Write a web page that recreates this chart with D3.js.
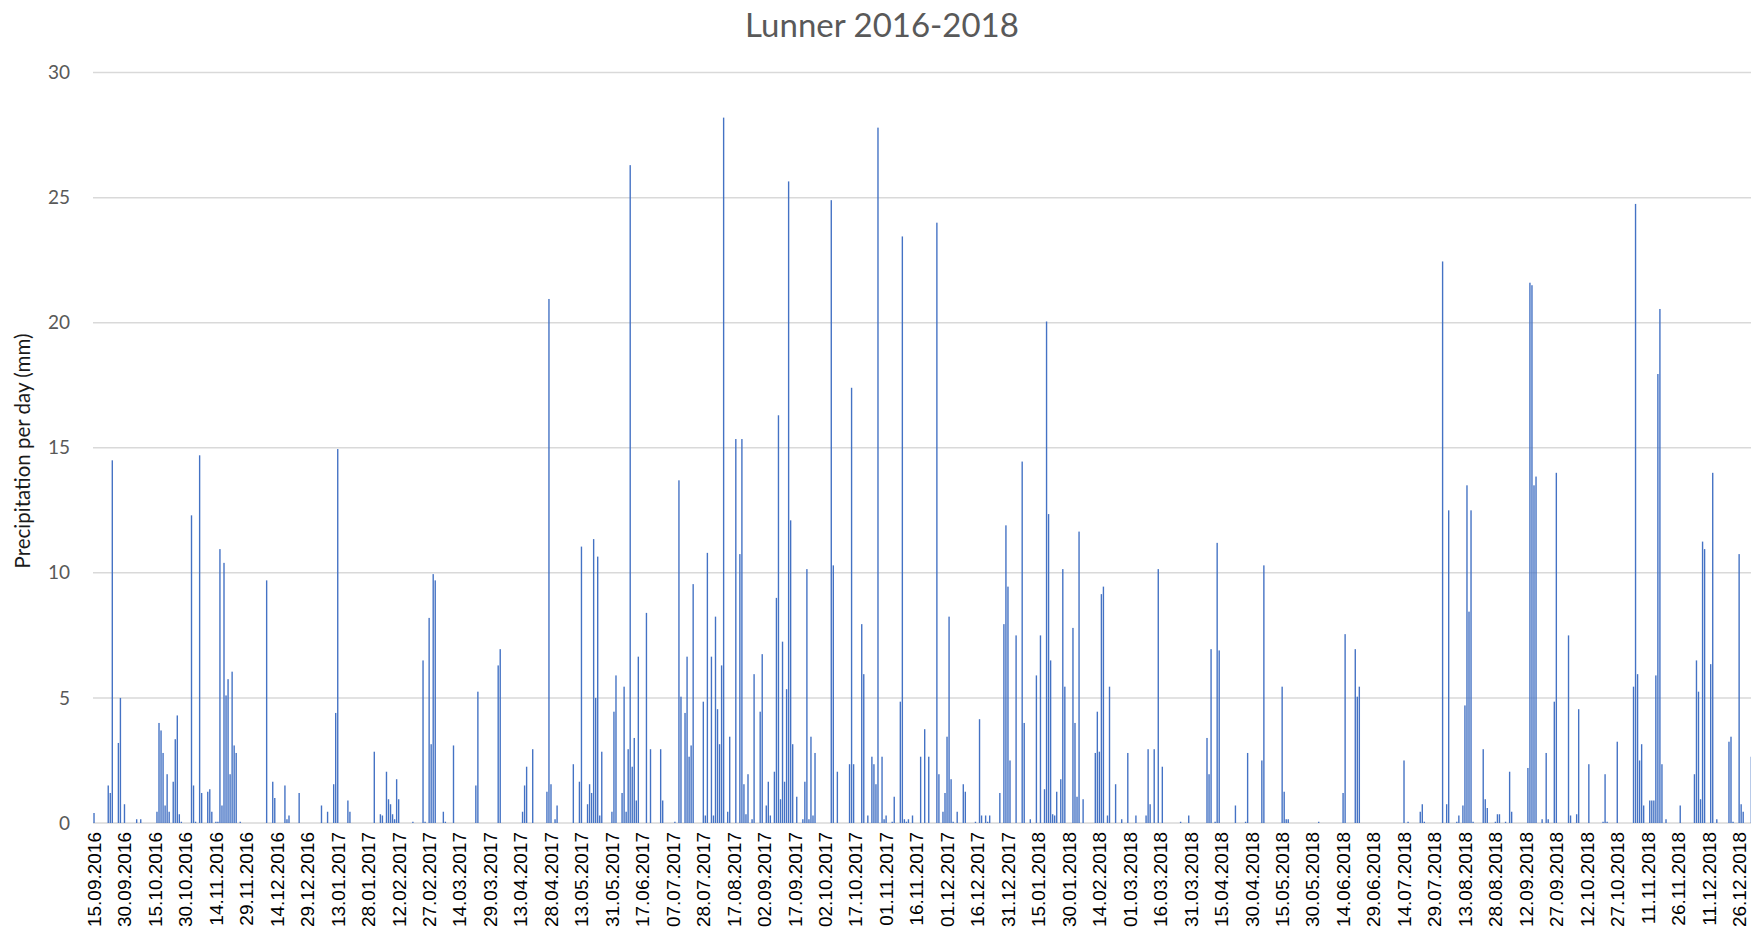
<!DOCTYPE html>
<html>
<head>
<meta charset="utf-8">
<script src="https://cdn.jsdelivr.net/npm/d3@7"></script>
<style>
  html, body { margin: 0; padding: 0; overflow: hidden; background: #ffffff; }
  svg { display: block; }
</style>
</head>
<body>
<svg id="chart" width="1790" height="933"></svg>
<script>
// Daily precipitation at Lunner, one category per recorded day
const chartTitle = "Lunner 2016-2018";
const yAxisTitle = "Precipitation per day (mm)";
const yTicks = [0, 5, 10, 15, 20, 25, 30];

// Axis labels, one for every 15th recorded day
const tickLabels = [
  "15.09.2016", "30.09.2016", "15.10.2016", "30.10.2016", "14.11.2016", "29.11.2016",
  "14.12.2016", "29.12.2016", "13.01.2017", "28.01.2017", "12.02.2017", "27.02.2017",
  "14.03.2017", "29.03.2017", "13.04.2017", "28.04.2017", "13.05.2017", "31.05.2017",
  "17.06.2017", "07.07.2017", "28.07.2017", "17.08.2017", "02.09.2017", "17.09.2017",
  "02.10.2017", "17.10.2017", "01.11.2017", "16.11.2017", "01.12.2017", "16.12.2017",
  "31.12.2017", "15.01.2018", "30.01.2018", "14.02.2018", "01.03.2018", "16.03.2018",
  "31.03.2018", "15.04.2018", "30.04.2018", "15.05.2018", "30.05.2018", "14.06.2018",
  "29.06.2018", "14.07.2018", "29.07.2018", "13.08.2018", "28.08.2018", "12.09.2018",
  "27.09.2018", "12.10.2018", "27.10.2018", "11.11.2018", "26.11.2018", "11.12.2018",
  "26.12.2018"
];

// Precipitation (mm) per day, 15 days per line (each line starts at a labelled day)
const precipitation = [
  0.4, 0, 0, 0, 0, 0, 0, 1.5, 1.2, 14.5, 0, 0, 3.2, 5.0, 0,
  0.75, 0, 0, 0, 0, 0, 0.15, 0, 0.15, 0, 0, 0, 0, 0, 0,
  0, 0.45, 4.0, 3.7, 2.8, 0.7, 1.95, 0.45, 0, 1.65, 3.35, 4.3, 0.35, 0.05, 0,
  0, 0, 0, 12.3, 1.5, 0.05, 0, 14.7, 1.2, 0, 0, 1.25, 1.35, 0.45, 0,
  0.05, 0.05, 10.95, 0.7, 10.4, 5.1, 5.75, 1.95, 6.05, 3.1, 2.8, 0, 0.05, 0, 0,
  0, 0, 0, 0, 0, 0, 0, 0, 0, 0, 9.7, 0, 0, 1.65, 1.0,
  0, 0, 0, 0, 1.5, 0.15, 0.3, 0, 0, 0, 0, 1.2, 0, 0, 0,
  0, 0, 0, 0, 0, 0, 0, 0.7, 0, 0, 0.45, 0, 0, 1.55, 4.4,
  14.95, 0, 0, 0, 0, 0.9, 0.45, 0, 0, 0, 0, 0, 0, 0, 0,
  0, 0, 0, 2.85, 0, 0, 0.35, 0.3, 0, 2.05, 0.95, 0.75, 0.35, 0.15, 1.75,
  0.95, 0, 0, 0, 0, 0, 0, 0.05, 0, 0, 0, 0, 6.5, 0.05, 0,
  8.2, 3.15, 9.95, 9.7, 0, 0, 0, 0.45, 0.05, 0, 0, 0, 3.1, 0, 0,
  0, 0, 0, 0, 0, 0, 0, 0, 1.5, 5.25, 0, 0, 0, 0, 0,
  0, 0, 0, 0, 6.3, 6.95, 0, 0, 0, 0, 0, 0, 0, 0, 0,
  0, 0.45, 1.5, 2.25, 0, 0, 2.95, 0, 0, 0, 0, 0, 0, 1.25, 20.95,
  1.55, 0, 0.15, 0.7, 0, 0, 0, 0, 0, 0, 0, 2.35, 0, 0, 1.65,
  11.05, 0, 0, 0.75, 1.55, 1.2, 11.35, 5.0, 10.65, 0.3, 2.85, 0, 0, 0, 0,
  0.45, 4.45, 5.9, 0, 0, 1.2, 5.45, 0.45, 2.95, 26.3, 2.25, 3.4, 0.9, 6.65, 0,
  0, 0, 8.4, 0, 2.95, 0, 0, 0, 0, 2.95, 0.9, 0, 0, 0, 0,
  0, 0.05, 0, 13.7, 5.05, 0, 4.4, 6.65, 2.65, 3.1, 9.55, 0, 0, 0, 0,
  4.85, 0.3, 10.8, 0, 6.65, 0.3, 8.25, 4.55, 3.15, 6.3, 28.2, 0, 0.45, 3.45, 0,
  0, 15.35, 0, 10.75, 15.35, 1.55, 0.35, 1.95, 0, 0.15, 5.95, 0, 0, 4.45, 6.75,
  0, 0.7, 1.65, 0.3, 0, 2.05, 9.0, 16.3, 0.95, 7.25, 1.65, 5.35, 25.65, 12.1, 3.15,
  0, 1.05, 0, 0, 0.15, 1.65, 10.15, 0.15, 3.45, 0.3, 2.8, 0, 0, 0, 0,
  0, 0, 0, 24.9, 10.3, 0, 2.05, 0, 0, 0, 0, 0, 2.35, 17.4, 2.35,
  0, 0, 0, 7.95, 5.95, 0, 0.3, 0, 2.65, 2.35, 1.55, 27.8, 0, 2.65, 0.15,
  0.3, 0, 0, 0.05, 1.05, 0, 0, 4.85, 23.45, 0.15, 0.05, 0.15, 0, 0.3, 0,
  0, 0, 2.65, 0, 3.75, 0, 2.65, 0, 0, 0, 24.0, 1.95, 0, 0.45, 1.2,
  3.45, 8.25, 1.75, 0.05, 0, 0.45, 0, 0, 1.55, 1.25, 0, 0, 0, 0, 0.05,
  0, 4.15, 0.3, 0, 0.3, 0.05, 0.3, 0, 0, 0, 0, 1.2, 0, 7.95, 11.9,
  9.45, 2.5, 0, 0, 7.5, 0, 0, 14.45, 4.0, 0, 0, 0.15, 0, 0, 5.9,
  0, 7.5, 0, 1.35, 20.05, 12.35, 6.5, 0.35, 0.3, 1.25, 0, 1.75, 10.15, 5.45, 0,
  0, 0, 7.8, 4.0, 1.05, 11.65, 0, 0.95, 0, 0, 0, 0, 0, 2.8, 4.45,
  2.85, 9.15, 9.45, 0, 0.3, 5.45, 0, 0, 1.55, 0, 0, 0.15, 0, 0, 2.8,
  0, 0, 0, 0.3, 0, 0, 0, 0, 0.3, 2.95, 0.75, 0, 2.95, 0, 10.15,
  0, 2.25, 0, 0, 0, 0, 0, 0, 0, 0, 0.05, 0, 0, 0, 0.3,
  0, 0, 0, 0, 0, 0, 0, 0, 3.4, 1.95, 6.95, 0, 0.05, 11.2, 6.9,
  0, 0, 0, 0, 0, 0, 0, 0.7, 0, 0, 0, 0, 0.05, 2.8, 0,
  0, 0, 0, 0, 0, 2.5, 10.3, 0, 0, 0, 0, 0, 0, 0, 0,
  5.45, 1.25, 0.15, 0.15, 0, 0, 0, 0, 0, 0, 0, 0, 0, 0, 0,
  0, 0, 0, 0.05, 0, 0, 0, 0, 0, 0, 0, 0, 0, 0, 0,
  1.2, 7.55, 0, 0, 0, 0, 6.95, 5.05, 5.45, 0, 0, 0, 0, 0, 0,
  0, 0, 0, 0, 0, 0, 0, 0, 0, 0, 0, 0, 0, 0, 0,
  2.5, 0, 0.05, 0, 0, 0, 0, 0, 0.45, 0.75, 0.05, 0, 0, 0, 0,
  0, 0, 0, 0, 22.45, 0, 0.75, 12.5, 0, 0, 0, 0.05, 0.3, 0, 0.7,
  4.7, 13.5, 8.45, 12.5, 0.05, 0, 0, 0, 0, 2.95, 0.95, 0.6, 0, 0, 0,
  0.05, 0.35, 0.35, 0, 0, 0.05, 0, 2.05, 0.45, 0, 0, 0, 0, 0, 0,
  0, 2.2, 21.6, 21.5, 13.5, 13.85, 0, 0, 0.15, 0, 2.8, 0.15, 0, 0, 4.85,
  14.0, 0, 0, 0, 0, 0, 7.5, 0.3, 0, 0, 0.35, 4.55, 0, 0, 0,
  0, 2.35, 0, 0, 0, 0, 0, 0, 0.05, 1.95, 0.05, 0, 0, 0, 0,
  3.25, 0, 0, 0, 0, 0, 0, 0, 5.45, 24.75, 5.95, 2.5, 3.15, 0.7, 0,
  0, 0.9, 0.9, 0.9, 5.9, 17.95, 20.55, 2.35, 0, 0.15, 0, 0, 0, 0, 0,
  0, 0.7, 0, 0, 0, 0, 0, 0, 1.95, 6.5, 5.25, 0.95, 11.25, 10.95, 0,
  0, 6.35, 14.0, 0, 0.15, 0, 0, 0, 0, 0, 3.25, 3.45, 0.05, 0, 0,
  10.75, 0.75, 0.45, 0, 0, 0, 2.65, 0, 0, 0, 0, 0, 0, 0, 0
];

const days = precipitation.map((_, i) => i);
const labelEvery = 15;

const svg = d3.select("#chart");
const svgWidth = +svg.attr("width");

const plotLeft = 93;
const plotTop = 72.6;
const plotBottom = 823;
const dayStep = 2.031;

const x = d3.scaleBand()
  .domain(days)
  .range([plotLeft, plotLeft + days.length * dayStep])
  .paddingInner(0.32)
  .paddingOuter(0.16);

const y = d3.scaleLinear()
  .domain([0, 30])
  .range([plotBottom, plotTop]);

// Horizontal gridlines
svg.append("g")
  .selectAll("line")
  .data(yTicks)
  .join("line")
  .attr("x1", plotLeft)
  .attr("x2", svgWidth)
  .attr("y1", d => y(d))
  .attr("y2", d => y(d))
  .attr("stroke", "#d9d9d9")
  .attr("stroke-width", 1.5);

// Daily bars
svg.append("g")
  .selectAll("rect")
  .data(days.filter(i => precipitation[i] > 0))
  .join("rect")
  .attr("x", i => x(i))
  .attr("width", x.bandwidth())
  .attr("y", i => y(precipitation[i]))
  .attr("height", i => y(0) - y(precipitation[i]))
  .attr("fill", "#4472c4");

// Y axis
const yAxis = svg.append("g")
  .attr("transform", `translate(${plotLeft},0)`)
  .call(d3.axisLeft(y).tickValues(yTicks).tickSize(0).tickPadding(23));
yAxis.select(".domain").remove();
yAxis.selectAll("text")
  .attr("font-family", "Lato, 'Open Sans', sans-serif")
  .attr("font-size", 19)
  .attr("fill", "#595959");

// X axis with rotated date labels
const xAxis = svg.append("g")
  .attr("transform", `translate(0,${plotBottom})`)
  .call(d3.axisBottom(x)
    .tickValues(days.filter(i => i % labelEvery === 0))
    .tickFormat(i => tickLabels[i / labelEvery])
    .tickSize(0));
xAxis.select(".domain").remove();
xAxis.selectAll("text")
  .attr("transform", "rotate(-90)")
  .attr("text-anchor", "end")
  .attr("x", -9)
  .attr("y", 0)
  .attr("dy", "0.36em")
  .attr("font-family", "'Liberation Sans', Arial, sans-serif")
  .attr("font-size", 19)
  .attr("fill", "#000000");

// Chart title
svg.append("text")
  .attr("x", 882)
  .attr("y", 37)
  .attr("text-anchor", "middle")
  .attr("font-family", "Lato, 'Open Sans', sans-serif")
  .attr("font-size", 33)
  .attr("fill", "#595959")
  .text(chartTitle);

// Y axis title
svg.append("text")
  .attr("transform", "translate(22,451) rotate(-90)")
  .attr("text-anchor", "middle")
  .attr("dominant-baseline", "central")
  .attr("font-family", "Lato, 'Open Sans', sans-serif")
  .attr("font-size", 20.5)
  .attr("fill", "#1a1a1a")
  .text(yAxisTitle);
</script>
</body>
</html>
